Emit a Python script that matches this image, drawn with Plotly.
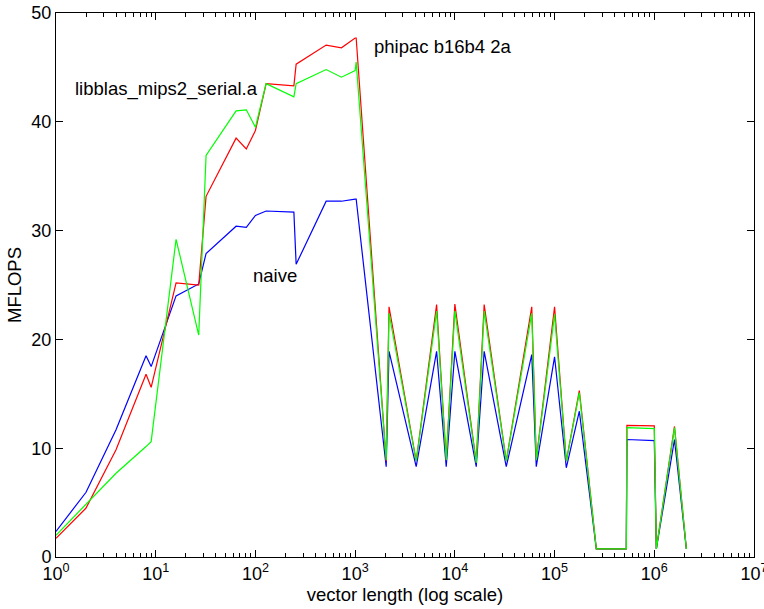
import plotly.graph_objects as go

vec_len = [1, 2, 4, 8, 9, 16, 27, 32, 64, 81, 100, 128, 243, 256, 512, 729, 1000, 1024,
           2048, 2187, 4096, 6561, 8192, 10000, 16384, 19683, 32768, 59049, 65536,
           100000, 131072, 177147, 262144, 524288, 531441, 1000000, 1048576, 1594323, 2097152]

naive = [2.35, 5.95, 11.7, 18.5, 17.5, 24.0, 25.1, 27.9, 30.4, 30.3, 31.4, 31.8, 31.7, 26.9,
         32.7, 32.7, 32.9, 32.9,
         8.3, 18.9, 8.3, 18.9, 8.3, 18.9, 8.3, 18.9, 8.3, 18.6, 8.3,
         18.4, 8.2, 13.4, 0.74, 0.74, 10.8, 10.7, 0.74, 10.8, 0.74]

phipac = [1.72, 4.5, 9.85, 16.8, 15.6, 25.2, 25.0, 33.15, 38.5, 37.5, 39.2, 43.5, 43.3, 45.3,
          47.05, 46.8, 47.7, 47.7,
          8.8, 23.0, 8.8, 23.2, 8.9, 23.25, 8.7, 23.2, 8.8, 23.0, 8.9,
          23.0, 8.8, 15.3, 0.74, 0.74, 12.1, 12.05, 0.74, 12.0, 0.74]

libblas = [2.0, 4.9, 7.7, 10.15, 10.6, 29.2, 20.4, 36.9, 41.0, 41.1, 39.5, 43.5, 42.3, 43.5,
           44.8, 44.1, 44.7, 45.5,
           8.9, 22.4, 8.8, 22.6, 8.9, 22.6, 8.65, 22.6, 8.8, 22.4, 8.9,
           22.3, 8.8, 15.1, 0.74, 0.74, 11.9, 11.8, 0.74, 11.9, 0.74]

x_tick_vals = [1, 10, 100, 1000, 10000, 100000, 1000000, 10000000]
x_tick_text = ["10<sup>0</sup>", "10<sup>1</sup>", "10<sup>2</sup>", "10<sup>3</sup>",
               "10<sup>4</sup>", "10<sup>5</sup>", "10<sup>6</sup>", "10<sup>7</sup>"]
y_tick_vals = [0, 10, 20, 30, 40, 50]

minor_vals = [m * 10 ** k for k in range(7) for m in range(2, 10)]

font = "Liberation Sans, Arial, Helvetica, sans-serif"

fig = go.Figure()
fig.add_trace(go.Scatter(x=vec_len, y=naive, mode="lines", line=dict(color="#0000ff", width=1.2), name="naive"))
fig.add_trace(go.Scatter(x=vec_len, y=phipac, mode="lines", line=dict(color="#ff0000", width=1.2), name="phipac b16b4 2a"))
fig.add_trace(go.Scatter(x=vec_len, y=libblas, mode="lines", line=dict(color="#00ff00", width=1.2), name="libblas_mips2_serial.a"))

fig.add_annotation(x=3.165, y=46.9, text="phipac b16b4 2a", showarrow=False, xanchor="left", yanchor="middle",
                   font=dict(size=18.5, color="black", family=font))
fig.add_annotation(x=0.17, y=43.0, text="libblas_mips2_serial.a", showarrow=False, xanchor="left", yanchor="middle",
                   font=dict(size=18.5, color="black", family=font))
fig.add_annotation(x=1.96, y=25.9, text="naive", showarrow=False, xanchor="left", yanchor="middle",
                   font=dict(size=18.5, color="black", family=font))

fig.update_layout(
    width=764, height=609,
    margin=dict(l=56, r=10, t=13, b=52),
    paper_bgcolor="white", plot_bgcolor="white",
    showlegend=False,
    font=dict(family=font, color="black", size=18),
)
fig.update_xaxes(
    type="log", range=[0, 7], automargin=False,
    tickmode="array", tickvals=x_tick_vals, ticktext=x_tick_text,
    ticks="inside", ticklen=7, tickwidth=1, tickcolor="black",
    showline=True, linecolor="black", linewidth=1, mirror="ticks",
    showgrid=False, zeroline=False,
    minor=dict(tickmode="array", tickvals=minor_vals, ticks="inside", ticklen=4, tickcolor="black", showgrid=False),
    tickfont=dict(size=18), ticklabeloverflow="allow",
    title=dict(text="vector length (log scale)", font=dict(size=18.5), standoff=2),
)
fig.update_yaxes(
    range=[0, 50], automargin=False,
    tickmode="array", tickvals=y_tick_vals,
    ticks="inside", ticklen=7, tickwidth=1, tickcolor="black",
    showline=True, linecolor="black", linewidth=1, mirror="ticks",
    showgrid=False, zeroline=False,
    tickfont=dict(size=18), ticklabeloverflow="allow",
    title=dict(text="MFLOPS", font=dict(size=18.5), standoff=4),
)

fig.write_html("out.html", config={"displayModeBar": False},
               post_script="document.body.style.margin='0';document.body.style.overflow='hidden';")
